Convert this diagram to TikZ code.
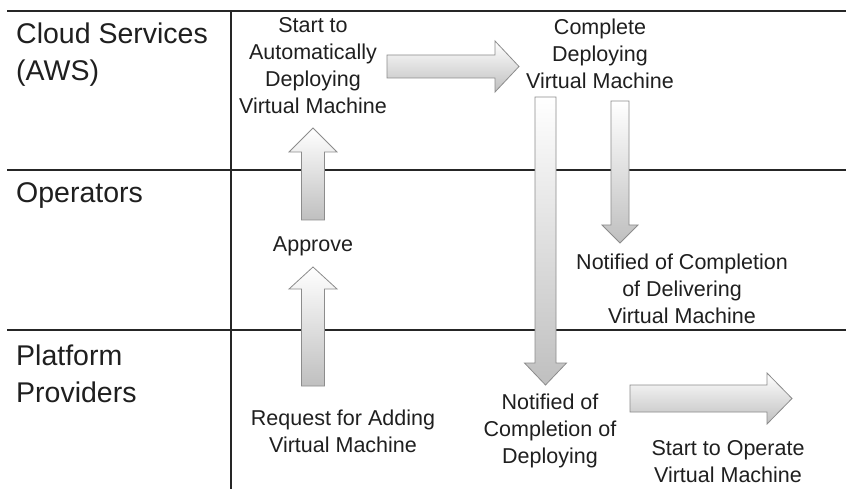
\documentclass[tikz,border=0pt]{standalone}
\usepackage{fontspec}
\setmainfont{Liberation Sans}
\usetikzlibrary{calc}

\tikzset{
  lane/.style={line width=1.2pt, draw=black!85},
  lbl/.style={font=\fontsize{21.5}{27}\selectfont, align=center, inner sep=0pt, text=black!88},
  lanelbl/.style={font=\fontsize{28.5}{37}\selectfont, align=left, anchor=west, inner sep=0pt, text=black!88},
  blockarrow/.style={draw=black!45, line width=0.8pt, top color=white, bottom color=black!25, line join=miter},
}

% block arrow: #1 tail, #2 tip, #3 shaft half width, #4 head half width, #5 head length
\newcommand\barrow[5]{%
  \coordinate (ba-h) at ($(#2)!#5!(#1)$);
  \path[blockarrow] ($(#1)!#3!90:(#2)$) -- ($(ba-h)!#3!90:(#2)$) -- ($(ba-h)!#4!90:(#2)$)
    -- (#2) -- ($(ba-h)!#4!-90:(#2)$) -- ($(ba-h)!#3!-90:(#2)$) -- ($(#1)!#3!-90:(#2)$) -- cycle;
}

\begin{document}
\begin{tikzpicture}[x=1pt, y=-1pt]
  \fill[white] (0,0) rectangle (846,489);
  \useasboundingbox (0,0) rectangle (846,489);

  % swimlane grid
  \coordinate (gl1) at (7,11);   \coordinate (gr1) at (846,11);
  \coordinate (gl2) at (7,170);  \coordinate (gr2) at (846,170);
  \coordinate (gl3) at (7,330);  \coordinate (gr3) at (846,330);
  \coordinate (gvt) at (231,11); \coordinate (gvb) at (231,489);
  \draw[lane] (gl1) -- (gr1);
  \draw[lane] (gl2) -- (gr2);
  \draw[lane] (gl3) -- (gr3);
  \draw[lane] (gvt) -- (gvb);

  % lane titles
  \node[lanelbl] (laneaws) at (16,55) {Cloud Services\\(AWS)};
  \node[lanelbl] (laneop) at (16,196) {Operators};
  \node[lanelbl] (lanepp) at (16,374) {Platform\\Providers};

  % steps
  \node[lbl] (startauto) at (313,66) {Start to\\Automatically\\Deploying\\Virtual Machine};
  \node[lbl] (complete) at (600,54) {Complete\\Deploying\\Virtual Machine};
  \node[lbl] (approve) at (313,246) {Approve};
  \node[lbl] (notifdeliv) at (682,289) {Notified of Completion\\of Delivering\\Virtual Machine};
  \node[lbl] (request) at (343,431) {Request for Adding\\Virtual Machine};
  \node[lbl] (notifdeploy) at (550,431) {Notified of\\Completion of\\Deploying};
  \node[lbl] (operate) at (728,462) {Start to Operate\\Virtual Machine};

  % arrow ends
  \coordinate (a1t) at (313,220);   \coordinate (a1h) at (313,128);
  \coordinate (a2t) at (313,386);   \coordinate (a2h) at (313,267);
  \coordinate (a3t) at (387,66.5);  \coordinate (a3h) at (519,66.5);
  \coordinate (a4t) at (545.5,97);  \coordinate (a4h) at (545.5,385);
  \coordinate (a5t) at (620,101);   \coordinate (a5h) at (620,243);
  \coordinate (a6t) at (630,398.5); \coordinate (a6h) at (792,398.5);

  \barrow{a2t}{a2h}{11.5pt}{24pt}{22pt}
  \barrow{a1t}{a1h}{11.5pt}{24pt}{24pt}
  \barrow{a3t}{a3h}{11.5pt}{25.5pt}{24pt}
  \barrow{a4t}{a4h}{10.5pt}{21pt}{22pt}
  \barrow{a5t}{a5h}{9pt}{18pt}{18pt}
  \barrow{a6t}{a6h}{13.5pt}{25.5pt}{25pt}
\end{tikzpicture}
\end{document}
